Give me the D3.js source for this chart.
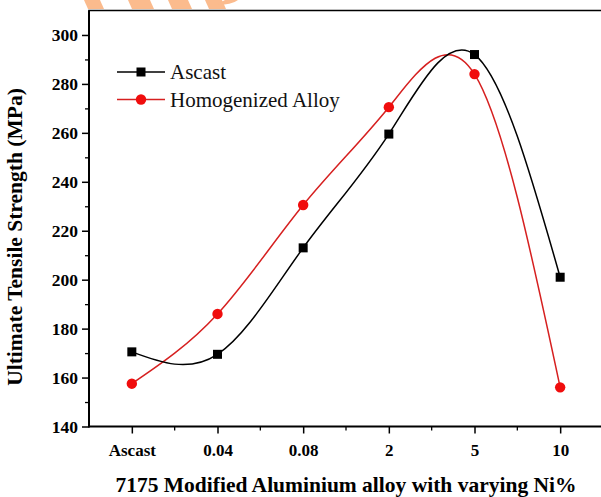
<!DOCTYPE html>
<html>
<head>
<meta charset="utf-8">
<script src="https://cdn.jsdelivr.net/npm/d3@7"></script>
<style>
  body { margin: 0; background: #fff; }
  svg { display: block; font-family: "Liberation Serif", "Times New Roman", serif; }
  .bold { font-family: "Liberation Serif", "Times New Roman", serif; font-weight: bold; fill: #000; }
</style>
</head>
<body>
<div id="container"></div>
<script>
// values
const categories = ["Ascast", "0.04", "0.08", "2", "5", "10"];
const ascast = [170.5, 169.5, 213, 259.5, 292, 201];
const homogenized = [157.5, 186, 230.5, 270.5, 284, 156];
const yTicks = [140, 160, 180, 200, 220, 240, 260, 280, 300];
const yMinor = [150, 170, 190, 210, 230, 250, 270, 290];

const width = 601, height = 497;
const margin = ({top: 10.5, left: 89, bottom: 426.5, right: 603});

const svg = d3.select("#container").append("svg")
    .attr("width", width).attr("height", height);

// faint orange logo watermark at the top edge
const wm = svg.append("g").attr("fill", "#fbb07a").attr("opacity", 0.85);
[[84, 100], [128, 150], [168, 188], [205, 222]].forEach(([a, b]) => {
  wm.append("path").attr("d", `M${a},0 L${b},0 L${b + 4},9 L${a + 4},9 Z`);
});
wm.append("path").attr("d", "M225,0 L238,0 Q232,5 215,5 Z");

const x = d3.scalePoint(categories, [margin.left, margin.right]).padding(0.5);
const y = d3.scaleLinear([140, 310], [margin.bottom, margin.top]);

// frame (left + top; right side is cut off by the crop)
svg.append("path")
    .attr("d", `M${margin.left},${margin.bottom} V${margin.top} H${width}`)
    .attr("fill", "none").attr("stroke", "#000").attr("stroke-width", 1.6);

const yAxis = svg.append("g")
    .attr("transform", `translate(${margin.left},0)`)
    .call(d3.axisLeft(y).tickValues(yTicks).tickSize(7).tickPadding(4))
    .call(g => g.select(".domain").remove());
yAxis.selectAll("line").attr("stroke-width", 1.5);
yAxis.selectAll("text").attr("class", "bold").attr("font-size", 17.5);

svg.append("g")
    .attr("transform", `translate(${margin.left},0)`)
    .call(d3.axisLeft(y).tickValues(yMinor).tickSize(4).tickFormat(""))
    .call(g => g.select(".domain").remove())
    .selectAll("line").attr("stroke-width", 1.3);

const xAxis = svg.append("g")
    .attr("transform", `translate(0,${margin.bottom})`)
    .call(d3.axisBottom(x).tickSize(7).tickPadding(10))
    .call(g => g.select(".domain").attr("stroke-width", 2).attr("d", `M${margin.left},0H${width}`));
xAxis.selectAll("line").attr("stroke-width", 1.5);
xAxis.selectAll("text").attr("class", "bold").attr("font-size", 17);

const step = x.step();
svg.append("g")
    .attr("stroke", "#000").attr("stroke-width", 1.3)
    .selectAll("line")
    .data(categories.slice(0, -1))
    .join("line")
      .attr("x1", d => x(d) + step / 2).attr("x2", d => x(d) + step / 2)
      .attr("y1", margin.bottom).attr("y2", margin.bottom + 4);

// left axis line on top of ticks
svg.append("line")
    .attr("x1", margin.left).attr("x2", margin.left)
    .attr("y1", margin.top).attr("y2", margin.bottom + 1)
    .attr("stroke", "#000").attr("stroke-width", 2);

// axis titles
svg.append("text")
    .attr("class", "bold")
    .attr("x", 346).attr("y", 492)
    .attr("text-anchor", "middle")
    .attr("font-size", 21.5)
    .text("7175 Modified Aluminium alloy with varying Ni%");

svg.append("text")
    .attr("class", "bold")
    .attr("transform", "translate(22,237) rotate(-90)")
    .attr("text-anchor", "middle")
    .attr("font-size", 21.5)
    .text("Ultimate Tensile Strength (MPa)");

// series
const line = d3.line()
    .x((d, i) => x(categories[i]))
    .y(d => y(d))
    .curve(d3.curveNatural);

svg.append("path").datum(homogenized)
    .attr("d", line).attr("fill", "none")
    .attr("stroke", "#d62020").attr("stroke-width", 1.5);
svg.append("path").datum(ascast)
    .attr("d", line).attr("fill", "none")
    .attr("stroke", "#000").attr("stroke-width", 1.5);

svg.append("g").selectAll("rect")
    .data(ascast)
    .join("rect")
      .attr("x", (d, i) => x(categories[i]) - 4.5)
      .attr("y", d => y(d) - 4.5)
      .attr("width", 9).attr("height", 9)
      .attr("fill", "#000");

svg.append("g").selectAll("circle")
    .data(homogenized)
    .join("circle")
      .attr("cx", (d, i) => x(categories[i]))
      .attr("cy", d => y(d))
      .attr("r", 5.2)
      .attr("fill", "#f00d0d");

// legend
const legend = [
  {name: "Ascast", color: "#000", stroke: "#000", shape: "square", y: 72},
  {name: "Homogenized Alloy", color: "#f00d0d", stroke: "#d62020", shape: "circle", y: 99.5}
];
const lg = svg.append("g");
legend.forEach(d => {
  lg.append("line")
    .attr("x1", 117).attr("x2", 165).attr("y1", d.y).attr("y2", d.y)
    .attr("stroke", d.stroke).attr("stroke-width", 1.5);
  if (d.shape === "square") {
    lg.append("rect").attr("x", 141 - 4.5).attr("y", d.y - 4.5)
      .attr("width", 9).attr("height", 9).attr("fill", d.color);
  } else {
    lg.append("circle").attr("cx", 141).attr("cy", d.y).attr("r", 5.2).attr("fill", d.color);
  }
  lg.append("text")
    .attr("x", 170).attr("y", d.y + 7)
    .attr("font-size", 21).attr("fill", "#111")
    .text(d.name);
});
</script>
</body>
</html>
